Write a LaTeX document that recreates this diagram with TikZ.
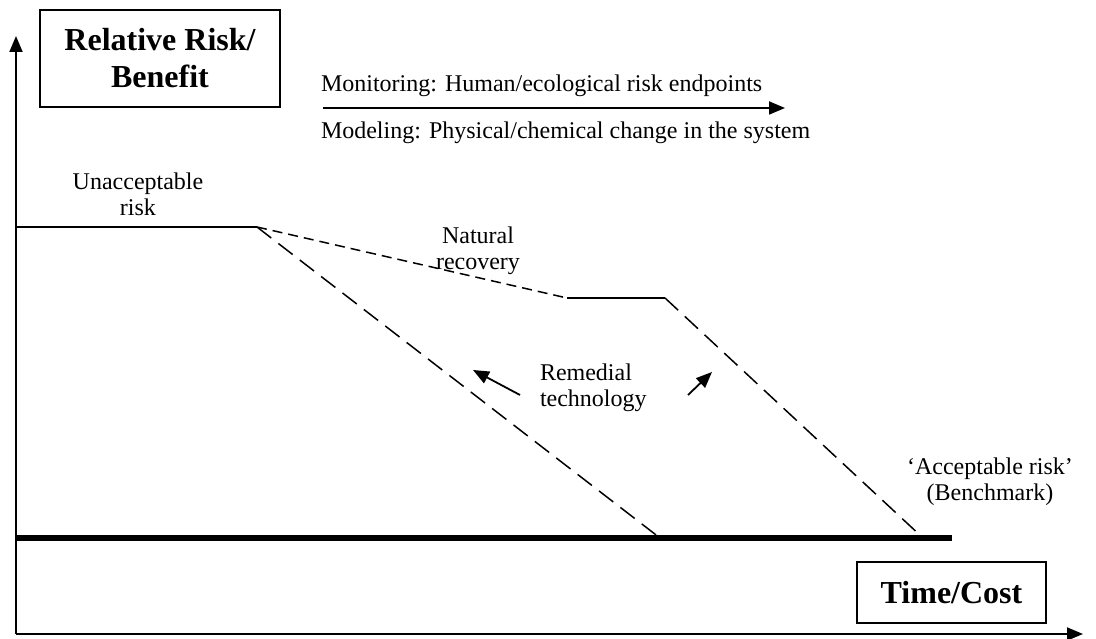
\documentclass[tikz,border=0pt]{standalone}
\usepackage{fontspec}
\setmainfont{Liberation Serif}
\usetikzlibrary{arrows.meta}
\begin{document}
\begin{tikzpicture}[x=1pt,y=1pt]
\definecolor{fillColor}{RGB}{255,255,255}
\definecolor{drawColor}{RGB}{0,0,0}
\tikzset{
  lbl/.style={text=drawColor,inner sep=0pt,outer sep=0pt,font=\fontsize{24}{26.5}\selectfont},
  bigbox/.style={draw=drawColor,line width=1.8pt,fill=fillColor,inner sep=0pt,align=center,font=\bfseries\fontsize{32}{37}\selectfont},
  tip/.style={-{Triangle[length=16pt,width=13pt]}},
  shortdash/.style={dash pattern=on 10pt off 6pt},
  longdash/.style={dash pattern=on 18pt off 9pt}
}
\path[use as bounding box,fill=fillColor] (0,0) rectangle (1096,639);

% axes
\coordinate (origin) at (16,5);
\coordinate (ytip) at (16,603);
\coordinate (xtip) at (1083,5);

\path[draw=drawColor,line width=1.8pt,tip] (origin) -- (ytip);

\path[draw=drawColor,line width=1.8pt,tip] (origin) -- (xtip);

% axis titles
\node[bigbox,minimum width=240,minimum height=97] (riskbox) at (160,580.5) {Relative Risk/\\Benefit};

\node[bigbox,minimum width=189,minimum height=61] (timebox) at (951.5,46.5) {Time/Cost};

% monitoring / modeling
\node[lbl,anchor=base west] (monitor) at (321,547) {Monitoring: Human/ecological risk endpoints};

\node[lbl,anchor=base west] (model) at (321,500) {Modeling: Physical/chemical change in the system};
\coordinate (monL) at (323,531);
\coordinate (monR) at (785,531);

\path[draw=drawColor,line width=1.8pt,tip] (monL) -- (monR);

% risk curves
\coordinate (riskL) at (16,412);
\coordinate (kink) at (257,412);
\coordinate (plateauL) at (567,341);
\coordinate (plateauR) at (665,341);
\coordinate (hitA) at (660,101);
\coordinate (hitB) at (923,101);
\coordinate (benchL) at (16,101);
\coordinate (benchR) at (952,101);

\path[draw=drawColor,line width=1.8pt] (riskL) -- (kink);

\path[draw=drawColor,line width=1.5pt,shortdash] (kink) -- (plateauL);

\path[draw=drawColor,line width=1.8pt] (plateauL) -- (plateauR);

\path[draw=drawColor,line width=1.5pt,longdash] (plateauR) -- (hitB);

\path[draw=drawColor,line width=1.5pt,longdash] (kink) -- (hitA);

\path[draw=drawColor,line width=6pt] (benchL) -- (benchR);

% labels
\node[lbl,anchor=base,align=center] (unacc) at (138,423) {Unacceptable\\risk};

\node[lbl,anchor=base,align=center] (natrec) at (478,369) {Natural\\recovery};

\node[lbl,anchor=base west,align=left] (remed) at (540,232) {Remedial\\technology};

\node[lbl,anchor=base,align=center] (accept) at (990,138) {`Acceptable risk'\\(Benchmark)};
\coordinate (remTailA) at (520,244);
\coordinate (remHeadA) at (473,269);
\coordinate (remTailB) at (688,244);
\coordinate (remHeadB) at (712,267);

\path[draw=drawColor,line width=1.8pt,tip] (remTailA) -- (remHeadA);

\path[draw=drawColor,line width=1.8pt,tip] (remTailB) -- (remHeadB);
\end{tikzpicture}
\end{document}
